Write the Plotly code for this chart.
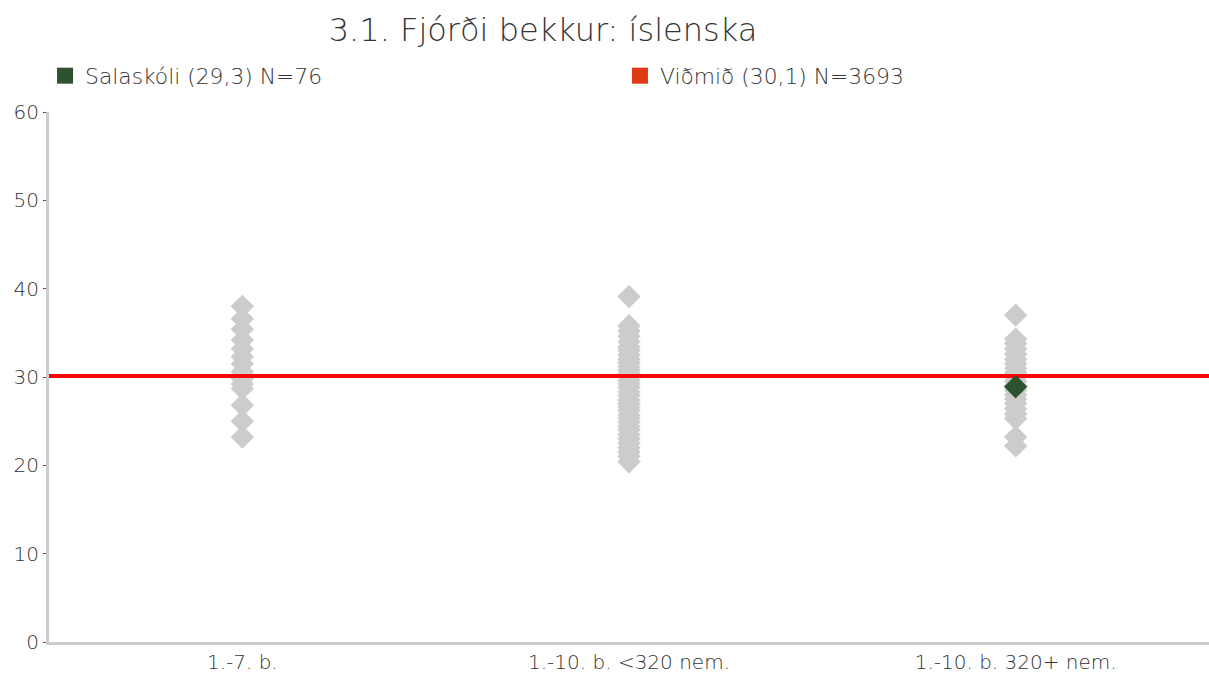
import plotly.graph_objects as go

title = "3.1. Fjórði bekkur: íslenska"
categories = ["1.-7. b.", "1.-10. b. <320 nem.", "1.-10. b. 320+ nem."]

# school averages per comparison group (grey diamonds)
group1_values = [38.0, 36.6, 35.4, 34.2, 33.2, 32.3, 31.5, 30.6, 29.8, 29.2, 28.7, 26.8, 25.0, 23.2]
group2_values = [39.1, 35.8, 35.2, 34.6, 34.0, 33.4, 33.0, 32.5, 32.0, 31.6, 31.2, 30.8, 30.4,
                 30.0, 29.6, 29.2, 28.8, 28.3, 27.9, 27.4, 27.0, 26.6, 26.2, 25.7, 25.3, 24.9,
                 24.4, 24.0, 23.5, 23.0, 22.5, 22.0, 21.5, 21.0, 20.4]
group3_values = [37.0, 34.3, 33.8, 33.2, 32.6, 32.0, 31.5, 31.0, 30.5, 30.0, 29.5, 29.0, 28.5,
                 28.0, 27.5, 27.0, 26.4, 25.8, 25.3, 23.2, 22.2]

school_name = "Salaskóli (29,3) N=76"
school_group = 2
school_value = 28.9

reference_name = "Viðmið (30,1) N=3693"
reference_value = 30.1

y_ticks = [0, 10, 20, 30, 40, 50, 60]

GREY = "#cccccc"
GREEN = "#2e5230"
RED = "#ff0000"
LEG_RED = "#e03a12"
TEXT = "#333333"
FONT = "DejaVu Sans"
WEIGHT = 300

fig = go.Figure()

for i, vals in enumerate([group1_values, group2_values, group3_values]):
    fig.add_trace(go.Scatter(
        x=[i] * len(vals), y=vals, mode="markers",
        marker=dict(symbol="diamond", size=18, color=GREY, line=dict(width=0)),
        showlegend=False, hoverinfo="y"))

fig.add_trace(go.Scatter(
    x=[-0.5, len(categories) - 0.5], y=[reference_value, reference_value], mode="lines",
    line=dict(color=RED, width=4), showlegend=False, hoverinfo="y"))

fig.add_trace(go.Scatter(
    x=[school_group], y=[school_value], mode="markers",
    marker=dict(symbol="diamond", size=18, color=GREEN, line=dict(width=0)),
    showlegend=False, hoverinfo="y"))

# legend entries
fig.add_trace(go.Scatter(
    x=[None], y=[None], mode="markers", name=school_name, legend="legend",
    marker=dict(symbol="square", size=16, color=GREEN)))
fig.add_trace(go.Scatter(
    x=[None], y=[None], mode="markers", name=reference_name, legend="legend2",
    marker=dict(symbol="square", size=16, color=LEG_RED)))

legend_common = dict(orientation="h", xanchor="left", y=1 - 76 / 673, yref="container",
                     yanchor="middle", font=dict(family=FONT, size=21.8, color=TEXT, weight=WEIGHT),
                     bgcolor="rgba(0,0,0,0)")

fig.update_layout(
    width=1209, height=673,
    paper_bgcolor="white", plot_bgcolor="white",
    margin=dict(l=49, r=0, t=112, b=31, autoexpand=False),
    font=dict(family=FONT, color=TEXT, size=20, weight=WEIGHT),
    title=dict(text=title, x=543 / 1209, xanchor="center", xref="container",
               y=1 - 30 / 673, yanchor="middle", yref="container",
               font=dict(family=FONT, size=32, color=TEXT, weight=WEIGHT)),
    legend=dict(x=-0.0034, **legend_common),
    legend2=dict(x=0.4922, **legend_common),
    showlegend=True,
)

fig.update_xaxes(
    range=[-0.5, len(categories) - 0.5],
    tickmode="array", tickvals=list(range(len(categories))), ticktext=categories,
    showgrid=False, zeroline=False, showline=True, linecolor="#cccccc", linewidth=3,
    ticks="", ticklabelstandoff=0,
    tickfont=dict(size=20, color=TEXT, family=FONT, weight=WEIGHT), fixedrange=True)

fig.update_yaxes(
    range=[0, 60], tickmode="array", tickvals=y_ticks,
    showgrid=False, zeroline=False, showline=True, linecolor="#cccccc", linewidth=3,
    ticks="outside", ticklen=3, tickcolor="#555555", tickwidth=1,
    tickfont=dict(size=20, color=TEXT, family=FONT, weight=WEIGHT), fixedrange=True)

fig.write_html("out.html", config={"displayModeBar": False},
               post_script="document.body.style.margin='0';")
